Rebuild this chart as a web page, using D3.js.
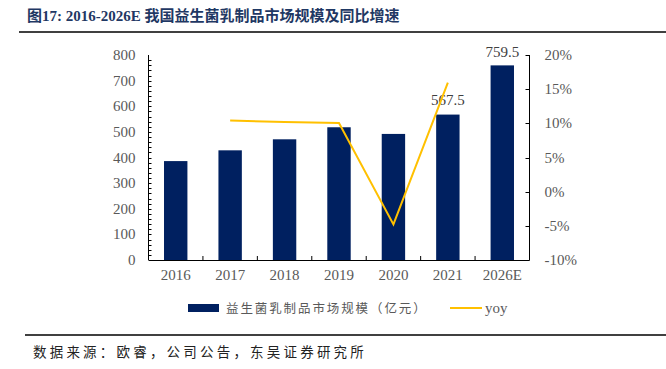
<!DOCTYPE html>
<html>
<head>
<meta charset="utf-8">
<script src="https://cdn.jsdelivr.net/npm/d3@7"></script>
<style>
  body { margin: 0; background: #fff; }
  svg { display: block; }
</style>
</head>
<body>
<div id="chart"></div>
<script>
// 데이터
const years = ["2016", "2017", "2018", "2019", "2020", "2021", "2026E"];
const marketSize = [386, 428, 471, 518, 492, 567.5, 759.5];
const yoy = [null, 10.4, 10.2, 10.05, -4.8, 15.95, null];
const leftTicks = [0, 100, 200, 300, 400, 500, 600, 700, 800];
const rightTicks = [-10, -5, 0, 5, 10, 15, 20];
const labelled = ["2021", "2026E"];

const W = 666, H = 369;
const serif = "'Liberation Serif', 'Times New Roman', serif";
const cjk = "'Noto Sans CJK SC', sans-serif";

let svg = d3.select("#chart").append("svg")
  .attr("width", W).attr("height", H);

// title
svg.append("text")
  .attr("x", 27).attr("y", 21)
  .attr("fill", "#1f3864")
  .attr("font-weight", "bold")
  .attr("font-size", 15)
  .attr("font-family", serif + ", " + cjk)
  .text("图17:  2016-2026E 我国益生菌乳制品市场规模及同比增速");

svg.append("line").attr("x1", 19).attr("x2", W).attr("y1", 32).attr("y2", 32)
  .attr("stroke", "#000").attr("stroke-width", 1.5);
svg.append("line").attr("x1", 25).attr("x2", W).attr("y1", 335).attr("y2", 335)
  .attr("stroke", "#000").attr("stroke-width", 1.5);

svg.append("text")
  .attr("x", 33).attr("y", 357)
  .attr("fill", "#222")
  .attr("font-size", 13.5)
  .attr("letter-spacing", 3.2)
  .attr("font-family", cjk)
  .text("数据来源：欧睿，公司公告，东吴证券研究所");

// scales
const x0 = 148.5, x1 = 529.5, yTop = 55, yBot = 260;
let x = d3.scaleBand().domain(years).range([x0, x1]).paddingInner(0.57).paddingOuter(0.285);
let xc = d3.scaleBand().domain(years).range([x0, x1]);
let yL = d3.scaleLinear().domain([0, 800]).range([yBot, yTop]);
let yR = d3.scaleLinear().domain([-10, 20]).range([yBot, yTop]);

// bars
svg.selectAll("rect.bar").data(years).enter().append("rect")
  .attr("class", "bar")
  .attr("x", d => x(d))
  .attr("width", x.bandwidth())
  .attr("y", (d, i) => yL(marketSize[i]))
  .attr("height", (d, i) => yBot - yL(marketSize[i]))
  .attr("fill", "#002060");

// value labels
svg.selectAll("text.val").data(years.filter(d => labelled.includes(d))).enter().append("text")
  .attr("x", d => xc(d) + xc.bandwidth() / 2)
  .attr("y", d => d === "2021" ? 105 : 57)
  .attr("text-anchor", "middle")
  .attr("font-family", serif).attr("font-size", 15)
  .attr("fill", "#404040")
  .text(d => marketSize[years.indexOf(d)]);

// yoy line
let pts = years.map((d, i) => [d, yoy[i]]).filter(p => p[1] !== null);
svg.append("path")
  .datum(pts)
  .attr("fill", "none")
  .attr("stroke", "#ffc000")
  .attr("stroke-width", 2)
  .attr("d", d3.line().x(p => xc(p[0]) + xc.bandwidth() / 2).y(p => yR(p[1])));

// left axis
let gL = svg.append("g").attr("transform", `translate(${x0},0)`);
gL.append("line").attr("y1", yTop).attr("y2", yBot).attr("stroke", "#000");
gL.selectAll("line.minor").data(d3.range(20, 800, 20)).enter().append("line")
  .attr("x1", 0).attr("x2", 3).attr("y1", d => Math.round(yL(d)) + 0.5).attr("y2", d => Math.round(yL(d)) + 0.5)
  .attr("stroke", "#000");
gL.selectAll("text").data(leftTicks).enter().append("text")
  .attr("x", -13).attr("y", d => yL(d) + 5)
  .attr("text-anchor", "end")
  .attr("font-family", serif).attr("font-size", 15)
  .attr("fill", "#595959")
  .text(d => d);

// right axis
let gR = svg.append("g").attr("transform", `translate(${x1},0)`);
gR.append("line").attr("y1", yTop).attr("y2", yBot).attr("stroke", "#000");
gR.selectAll("line.t").data(rightTicks).enter().append("line")
  .attr("x1", -4).attr("x2", 0).attr("y1", d => Math.round(yR(d)) + 0.5).attr("y2", d => Math.round(yR(d)) + 0.5)
  .attr("stroke", "#000");
gR.selectAll("text").data(rightTicks).enter().append("text")
  .attr("x", 15).attr("y", d => yR(d) + 5)
  .attr("font-family", serif).attr("font-size", 15)
  .attr("fill", "#595959")
  .text(d => d + "%");

// x axis
let gX = svg.append("g");
gX.append("line").attr("x1", x0).attr("x2", x1).attr("y1", yBot + 0.5).attr("y2", yBot + 0.5)
  .attr("stroke", "#000");
gX.selectAll("line.t").data(years.slice(1)).enter().append("line")
  .attr("x1", d => xc(d)).attr("x2", d => xc(d))
  .attr("y1", yBot).attr("y2", yBot - 4)
  .attr("stroke", "#000");
gX.selectAll("text").data(years).enter().append("text")
  .attr("x", d => xc(d) + xc.bandwidth() / 2)
  .attr("y", 280)
  .attr("text-anchor", "middle")
  .attr("font-family", serif).attr("font-size", 15)
  .attr("fill", "#595959")
  .text(d => d);

// legend
let lg = svg.append("g");
lg.append("rect").attr("x", 188).attr("y", 304).attr("width", 31).attr("height", 8).attr("fill", "#002060");
lg.append("text").attr("x", 226).attr("y", 313)
  .attr("font-family", cjk).attr("font-size", 12.5).attr("letter-spacing", 1.9)
  .attr("fill", "#595959")
  .text("益生菌乳制品市场规模（亿元）");
lg.append("line").attr("x1", 450).attr("x2", 482).attr("y1", 308).attr("y2", 308)
  .attr("stroke", "#ffc000").attr("stroke-width", 2);
lg.append("text").attr("x", 485).attr("y", 313)
  .attr("font-family", serif).attr("font-size", 15)
  .attr("fill", "#595959")
  .text("yoy");
</script>
</body>
</html>
